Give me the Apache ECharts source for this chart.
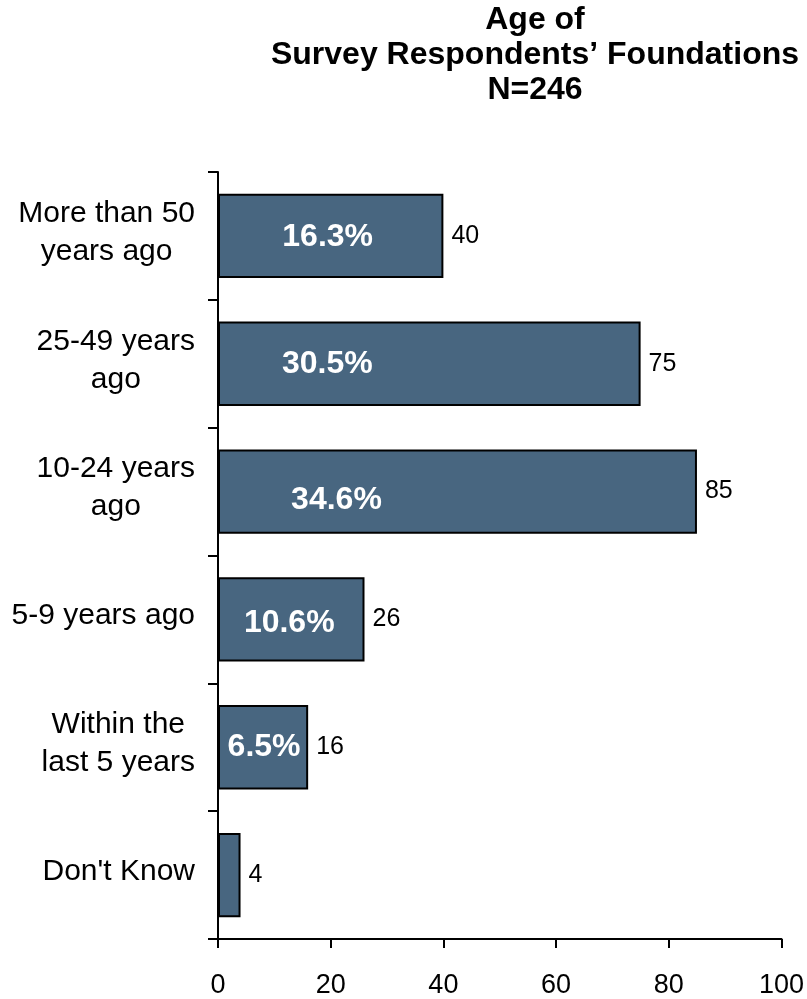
<!DOCTYPE html>
<html>
<head>
<meta charset="utf-8">
<script src="https://cdn.jsdelivr.net/npm/echarts@6/dist/echarts.min.js"></script>
<style>
html,body{margin:0;padding:0;background:#fff;}
#chart{width:807px;height:999px;}
</style>
</head>
<body>
<div id="chart"></div>
<script>
var categories = ['More than 50\nyears ago', '25-49 years\nago', '10-24 years\nago', '5-9 years ago', 'Within the\nlast 5 years', "Don't Know"];
var counts = [40, 75, 85, 26, 16, 4];
var percentLabels = ['16.3%', '30.5%', '34.6%', '10.6%', '6.5%', ''];
var xTicks = [0, 20, 40, 60, 80, 100];

var FONT = "'Liberation Sans', Arial, sans-serif";
// label placement tweaks (styling only)
var pctOffsets = [[-3, 1], [-102, 0], [-121, 9], [-2, 4], [1, 0], [0, 0]];

var chart = echarts.init(document.getElementById('chart'), null, {renderer: 'canvas'});
var option = {
  backgroundColor: '#ffffff',
  animation: false,
  title: {
    text: 'Age of\nSurvey Respondents\u2019 Foundations\nN=246',
    left: 530,
    top: -2,
    textAlign: 'center',
    textStyle: {fontFamily: FONT, fontSize: 32, fontWeight: 'bold', color: '#000', lineHeight: 35}
  },
  grid: {left: 218, right: 24, top: 172, bottom: 59, containLabel: false},
  xAxis: {
    type: 'value',
    min: xTicks[0],
    max: xTicks[xTicks.length - 1],
    interval: xTicks[1] - xTicks[0],
    axisLine: {show: true, lineStyle: {color: '#000', width: 2}},
    axisTick: {show: true, length: 9, lineStyle: {color: '#000', width: 2}},
    splitLine: {show: false},
    axisLabel: {fontFamily: FONT, fontSize: 27, color: '#000', margin: 33}
  },
  yAxis: {
    type: 'category',
    inverse: true,
    data: categories,
    axisLine: {show: true, lineStyle: {color: '#000', width: 2}},
    axisTick: {show: true, length: 10, lineStyle: {color: '#000', width: 2}},
    axisLabel: {
      fontFamily: FONT, fontSize: 30, color: '#000', lineHeight: 38, margin: 23, align: 'right',
      padding: [0, 0, 7, 0],
      formatter: function (v) {
        return v.split('\n').map(function (l) { return '{c|' + l + '}'; }).join('\n');
      },
      rich: {
        c: {fontFamily: FONT, fontSize: 30, color: '#000', lineHeight: 38, align: 'center'}
      }
    }
  },
  series: [
    {
      type: 'bar',
      data: counts,
      barWidth: '66%',
      itemStyle: {color: '#486680', borderColor: '#000', borderWidth: 2},
      label: {show: true, position: 'right', distance: 8, fontFamily: FONT, fontSize: 25, color: '#000', formatter: '{c}'}
    },
    {
      type: 'bar',
      data: counts.map(function (v, i) {
        return {value: v, label: {offset: pctOffsets[i]}};
      }),
      barWidth: '66%',
      barGap: '-100%',
      silent: true,
      itemStyle: {color: 'rgba(0,0,0,0)'},
      label: {
        show: true,
        position: 'inside',
        fontFamily: FONT,
        fontSize: 32,
        fontWeight: 'bold',
        color: '#fff',
        formatter: function (p) { return percentLabels[p.dataIndex]; }
      }
    }
  ]
};
chart.setOption(option);
</script>
</body>
</html>
